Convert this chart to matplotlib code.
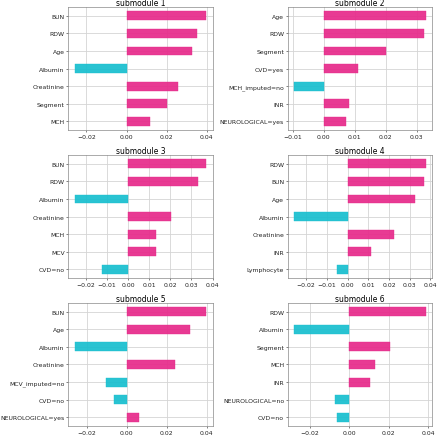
import matplotlib
matplotlib.use("Agg")
import matplotlib.pyplot as plt
from matplotlib.ticker import MultipleLocator
import numpy as np

titles = ["submodule 1", "submodule 2", "submodule 3", "submodule 4", "submodule 5", "submodule 6"]

labels1 = ["BUN", "RDW", "Age", "Albumin", "Creatinine", "Segment", "MCH"]
values1 = [0.0397, 0.0350, 0.0324, -0.0258, 0.0254, 0.0202, 0.0116]

labels2 = ["Age", "RDW", "Segment", "CVD=yes", "MCH_imputed=no", "INR", "NEUROLOGICAL=yes"]
values2 = [0.0329, 0.0323, 0.0200, 0.0111, -0.0096, 0.0080, 0.0073]

labels3 = ["BUN", "RDW", "Albumin", "Creatinine", "MCH", "MCV", "CVD=no"]
values3 = [0.0370, 0.0330, -0.0253, 0.0203, 0.0130, 0.0130, -0.0125]

labels4 = ["RDW", "BUN", "Age", "Albumin", "Creatinine", "INR", "Lymphocyte"]
values4 = [0.0376, 0.0370, 0.0326, -0.0258, 0.0224, 0.0112, -0.0053]

labels5 = ["BUN", "Age", "Albumin", "Creatinine", "MCV_imputed=no", "CVD=no", "NEUROLOGICAL=yes"]
values5 = [0.0398, 0.0317, -0.0260, 0.0241, -0.0106, -0.0064, 0.0061]

labels6 = ["RDW", "Albumin", "Segment", "MCH", "INR", "NEUROLOGICAL=no", "CVD=no"]
values6 = [0.0385, -0.0278, 0.0205, 0.0129, 0.0105, -0.0071, -0.0064]

tick_steps = [0.02, 0.01, 0.01, 0.01, 0.02, 0.02]

all_labels = [labels1, labels2, labels3, labels4, labels5, labels6]
all_values = [values1, values2, values3, values4, values5, values6]

POS = "#e7298a"
NEG = "#17becf"

fig, axes = plt.subplots(3, 2, figsize=(4.40, 4.39), dpi=100)
fig.subplots_adjust(left=0.155, right=0.982, top=0.982, bottom=0.027, wspace=0.517, hspace=0.2)

for ax, title, labs, vals, step in zip(axes.flat, titles, all_labels, all_values, tick_steps):
    y = np.arange(len(labs))[::-1]
    colors = [POS if v >= 0 else NEG for v in vals]
    ax.barh(y, vals, height=0.5, color=colors, alpha=0.92, edgecolor=colors, linewidth=0.3, zorder=2)
    ax.set_yticks(y)
    ax.set_yticklabels(labs)
    ax.set_ylim(-0.5, len(labs) - 0.5)
    ax.margins(x=0.05)
    ax.xaxis.set_major_locator(MultipleLocator(step))
    ax.grid(True, color="#d4d4d4", linewidth=0.6, zorder=0)
    ax.set_axisbelow(True)
    ax.set_title(title, fontsize=5.5, pad=1.5)
    ax.tick_params(labelsize=4.4, length=1.5, width=0.4, pad=1, colors="#222222")
    for s in ax.spines.values():
        s.set_color("#888888")
        s.set_linewidth(0.5)

fig.savefig("out.png", dpi=100)
